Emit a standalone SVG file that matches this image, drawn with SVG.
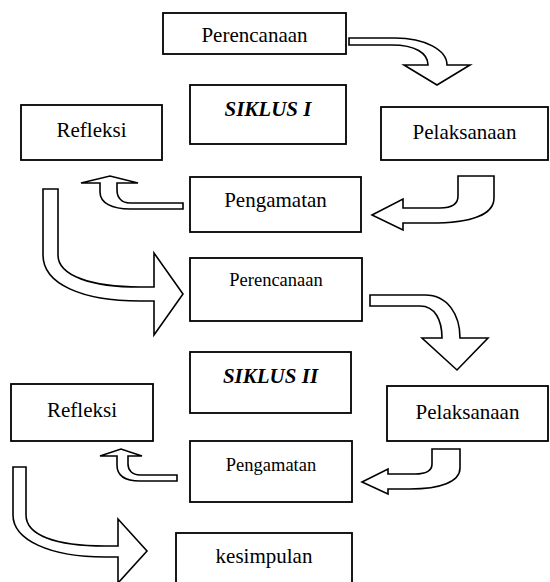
<svg xmlns="http://www.w3.org/2000/svg" width="550" height="582" viewBox="0 0 550 582">
<style>
.box{fill:#fff;stroke:#000;stroke-width:1.8}
.t{font-family:"Liberation Serif","Times New Roman",serif;font-size:21px;fill:#000;text-anchor:middle}
.s{font-size:18.5px}
.b{font-weight:bold;font-style:italic}
.arr{fill:#fff;stroke:#000;stroke-width:1.6;stroke-linejoin:miter}
</style>
<rect width="550" height="582" fill="#fff"/>
<g id="connectors">
<path class="arr" d="M349,38 L395,38 C425,38 447,50 447,65 L470,65 L437,85 L404,65 L428,65 C428,53 415,45 392,45 L349,45 Z"/>
<path class="arr" d="M458,176 L494,176 L494,198 C494,215 470,223 430,223 L403,223 L403,230 L372,215 L403,199 L403,208 L440,208 C452,208 458,204 458,196 Z"/>
<path class="arr" d="M183,203 L130,203 C122,203 117,198 117,190 L117,183 L138,183 L110,176 L81,183 L100,183 L100,192 C100,203 112,209 130,209 L183,209 Z"/>
<path class="arr" d="M43,189 L58,189 L58,255 C58,276 92,287 140,287 L154,287 L154,253 L183,294 L154,335 L154,301 L140,301 C82,301 43,284 43,255 Z"/>
<path class="arr" d="M370,295 L425,295 C448,295 460,315 460,338 L488,338 L457,370 L422,338 L442,338 C442,320 435,306 420,306 L370,306 Z"/>
<path class="arr" d="M432,449 L460,449 L460,468 C460,482 440,489 410,489 L388,489 L388,494 L362,482 L388,469 L388,474 L415,474 C427,474 432,470 432,464 Z"/>
<path class="arr" d="M177,475 L140,475 C132,475 128,470 128,464 L128,456 L142,456 L121,449 L100,456 L117,456 L117,465 C117,476 126,481 140,481 L177,481 Z"/>
<path class="arr" d="M13,467 L26,467 L26,515 C26,535 55,546 105,546 L118,546 L118,519 L147,551 L118,583 L118,557 L105,557 C50,557 13,540 13,515 Z"/>
</g>
<g id="perencanaan1"><rect class="box" x="163" y="13" width="183" height="41"/><text class="t" x="254.5" y="42">Perencanaan</text></g>
<g id="siklus1"><rect class="box" x="190" y="85" width="156" height="59"/><text class="t b" x="268" y="116">SIKLUS I</text></g>
<g id="refleksi1"><rect class="box" x="21" y="105" width="141" height="55"/><text class="t" x="91.5" y="137">Refleksi</text></g>
<g id="pelaksanaan1"><rect class="box" x="381" y="107" width="167" height="53"/><text class="t" x="464.5" y="139">Pelaksanaan</text></g>
<g id="pengamatan1"><rect class="box" x="190" y="177" width="171" height="55"/><text class="t" x="275.5" y="207">Pengamatan</text></g>
<g id="perencanaan2"><rect class="box" x="190" y="258" width="172" height="63"/><text class="t s" x="276" y="286">Perencanaan</text></g>
<g id="siklus2"><rect class="box" x="190" y="352" width="161" height="61"/><text class="t b" x="270.5" y="383">SIKLUS II</text></g>
<g id="refleksi2"><rect class="box" x="11" y="384" width="142" height="57"/><text class="t" x="82" y="417">Refleksi</text></g>
<g id="pelaksanaan2"><rect class="box" x="387" y="386" width="161" height="55"/><text class="t" x="467.5" y="419">Pelaksanaan</text></g>
<g id="pengamatan2"><rect class="box" x="190" y="441" width="162" height="61"/><text class="t s" x="271" y="471">Pengamatan</text></g>
<g id="kesimpulan"><rect class="box" x="176" y="533" width="176" height="60"/><text class="t" x="264" y="563">kesimpulan</text></g>
</svg>
